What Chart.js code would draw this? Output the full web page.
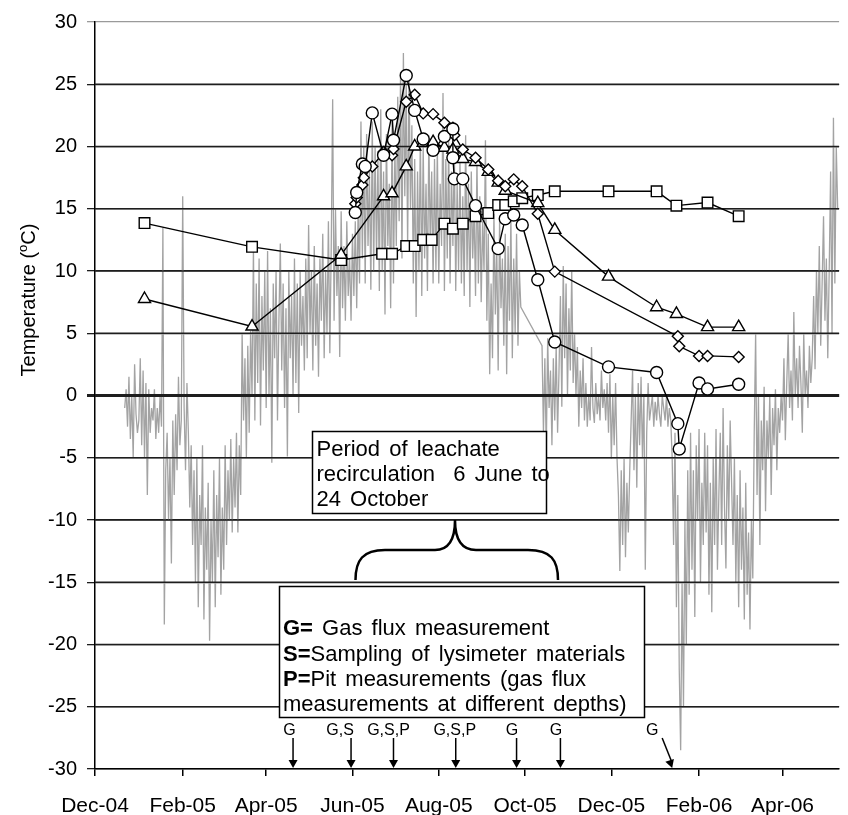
<!DOCTYPE html>
<html><head><meta charset="utf-8">
<script src="https://cdn.jsdelivr.net/npm/chart.js@4.4.1/dist/chart.umd.min.js"></script>
<style>html,body{margin:0;padding:0;background:#fff}canvas{display:block}</style>
</head><body>
<canvas id="c" width="848" height="815"></canvas>
<script>
// ---- axis ----
const axisStart = '2004-12-01';
const axisEnd = '2006-05-11';
const tickDates = ['2004-12-01','2005-02-01','2005-04-01','2005-06-01','2005-08-01','2005-10-01','2005-12-01','2006-02-01','2006-04-01'];
const tickLabels = ['Dec-04','Feb-05','Apr-05','Jun-05','Aug-05','Oct-05','Dec-05','Feb-06','Apr-06'];

// ---- daily air temperature (grey), from airStart, one value per day, null = missing ----
const airStart = '2004-12-22';
const airTemp = [
 -1,0.5,-2.5,1.5,-3.5,0,-5,2.5,-1.5,-3,
 -2,3,-4,2,-5,1,-8,0.5,-3,-1,
 -2,0.5,-3.5,-1,-3,0,-2.5,13.5,-18.4,-6,
 -3,-10,-5,-13.5,-2,-8,-1.5,-6,1.5,-4,
 -2,16,-1,-6,1,-3,-9,-4,-12,-6,
 -15,-5,-17,-8,-12,-4,-18,-9,-14,-7,
 -19.7,-10,-15,-6,-17,-8,-13,-5,-16,-9,
 -14,-4,-12,-6,-10,-3.5,-11,-5,-9,-3,
 -11,-4,-8,5,-2,3,-5,4,-3,5.2,
 0,11.9,-2,9,1,11,-2.4,8,2,10,
 -1,11.6,0,7,-5.4,9,3,10,-2,6,
 12.2,2,9,-1,7,-4.9,10,3,8,0,
 11,1,9,-1.4,10,4,8,2,11,3,
 13.7,5,10,2,12,4,9,1.5,11,6,
 13,3,10,5,14,3.4,12,23.8,6,15,
 8,12,3.1,14.8,7,12,6,14,8,11,
 6,13,8,14,7,15,9,22,11,20,
 9,21,12,18,8.5,22,10,20,11,19,
 8.4,23,10,18,6.5,21,12,17,7,22,
 9,20,12,24,14,26,11,27.5,16,25,
 12,26,15,21.7,9,19,6.3,18,10,21,
 8,20,11,17,8.4,20.9,12,18,9,19,
 10,20,9,17,12,24.3,8.4,19,11,20.4,
 9,18,12,20,8.4,17,10,19,9,16,
 8,20.9,10,17,7.1,18,11,15,8,19,
 9,16,7.5,14,10,20.5,6,13,1.7,9,
 3,14.6,6.5,12,2,14,7,11,4,13,
 1.7,12,6,14.3,3,11,5,13,4,10,
 7.1,null,null,null,null,null,null,null,null,null,null,null,null,null,null,
 4.0,-3,3,-4.5,4.6,-1,2,-4,3,-2,4,-3,
 2,8,-0.9,10.4,3,9,0,7,2,10,1,5,
 0,3.9,-2.5,2,-1,3,-2,1,-2.5,
 0,-2,3.9,-1,-2.2,1,-1.5,0,-2,2,-1,0.5,-2,1,
 -3,1.7,-5.1,0,-4,1,-5,
 -8,-14.1,-6,-12,-5.1,-13,-7,-11,-6,
 -2,2,-6,0,-7.4,1,-4,1.5,-5,0,-14,-3,1,-2,
 -1,0,-2.5,-0.5,-2,0,-1.5,-2.5,0,-1,-2,0,-2.5,-1,-2,
 -5,-12,-3,-17,-8,-22,-28.5,-15,-25,-10,-20,-6,-16,
 -3,-14,-6,-17.8,-4,-10,-2.7,-15,-7,-12,-3,
 -11,-4,-16,-7,-17.4,-5,-12,-2.7,-14,-8,
 -3,-12,-1,-9,-13.9,-4,-10,-2,-7,
 -12,-5,-15,-8,-17,-6,-14,-9,-18,-7,-16,-11,-18.8,-10,
 -14.7,-3,5,-8,0,-12,-2,
 -6,0.7,-9.3,-2,-5,0,-8,-1,-4,0.5,-6,-1,-3,0,
 -2,3,-3.6,1,5,-1,2,-2,6.7,0,3,-1,4,1,-3,5,0,2,-1,4,1,
 3,8,2.1,10,5,12,4,9,14.4,6,11,3,
 10,18,5,22.3,9,20,15
];

// ---- measured series (markers) ----
const squareDates = ['2005-01-05','2005-03-22','2005-05-24','2005-06-22','2005-06-29','2005-07-09','2005-07-15','2005-07-21','2005-07-27','2005-08-05','2005-08-11','2005-08-18','2005-08-27','2005-09-05','2005-09-12','2005-09-17','2005-09-23','2005-09-29','2005-10-10','2005-10-22','2005-11-29','2006-01-02','2006-01-16','2006-02-07','2006-03-01'];
const squareTemp = [13.85,11.94,10.88,11.38,11.38,12.0,12.0,12.5,12.5,13.8,13.4,13.8,14.4,14.65,15.3,15.3,15.6,15.85,16.1,16.4,16.4,16.4,15.25,15.5,14.4];

const triangleDates = ['2005-01-05','2005-03-22','2005-05-24','2005-06-23','2005-06-29','2005-07-09','2005-07-15','2005-07-21','2005-07-28','2005-08-05','2005-08-11','2005-08-18','2005-08-27','2005-09-05','2005-09-12','2005-09-17','2005-10-10','2005-10-22','2005-11-29','2006-01-02','2006-01-16','2006-02-07','2006-03-01'];
const triangleTemp = [7.75,5.54,11.3,16.0,16.24,18.4,20.0,20.3,20.35,19.9,19.75,19.0,18.76,17.96,17.1,16.45,15.45,13.3,9.55,7.09,6.55,5.49,5.49];

const diamondDates = ['2005-06-03','2005-06-04','2005-06-08','2005-06-09','2005-06-15','2005-06-23','2005-06-29','2005-06-30','2005-07-09','2005-07-15','2005-07-21','2005-07-28','2005-08-05','2005-08-11','2005-08-12','2005-08-18','2005-08-27','2005-09-05','2005-09-12','2005-09-17','2005-09-23','2005-09-29','2005-10-10','2005-10-22','2006-01-17','2006-01-18','2006-02-01','2006-02-07','2006-03-01'];
const diamondTemp = [15.4,15.9,16.9,17.5,18.4,19.56,19.3,19.8,23.6,24.15,22.66,22.6,21.9,21.5,20.9,19.75,19.1,18.15,17.25,16.8,17.36,16.8,14.6,9.95,4.75,3.95,3.18,3.18,3.1];

const circleDates = ['2005-06-03','2005-06-04','2005-06-08','2005-06-10','2005-06-15','2005-06-23','2005-06-29','2005-06-30','2005-07-09','2005-07-15','2005-07-21','2005-07-28','2005-08-05','2005-08-11','2005-08-11','2005-08-12','2005-08-18','2005-08-27','2005-09-12','2005-09-17','2005-09-23','2005-09-29','2005-10-10','2005-10-22','2005-11-29','2006-01-02','2006-01-17','2006-01-18','2006-02-01','2006-02-07','2006-03-01'];
const circleTemp = [14.7,16.3,18.6,18.4,22.7,19.3,22.6,20.5,25.7,22.9,20.6,19.7,20.8,21.4,19.1,17.4,17.4,15.25,11.8,14.2,14.5,13.7,9.3,4.3,2.3,1.85,-2.26,-4.3,1.0,0.53,0.9];

// ---- events marked by arrows ----
const eventDates = ['2005-04-20','2005-05-31','2005-06-30','2005-08-13','2005-09-25','2005-10-26','2006-01-13'];
const eventLabels = ['G','G,S','G,S,P','G,S,P','G','G','G'];

// ---- helpers ----
function dayOf(s){ const p=s.split('-').map(Number); const b=axisStart.split('-').map(Number);
  return (Date.UTC(p[0],p[1]-1,p[2]) - Date.UTC(b[0],b[1]-1,b[2]))/86400000; }
const tickDays = tickDates.map(dayOf);
function pts(dates, vals){ return dates.map((d,i)=>({x:dayOf(d), y:vals[i]})); }
const airPts = airTemp.map((v,i)=>({x: dayOf(airStart)+i, y: v}));

const FONT = "'Liberation Sans', Arial, Helvetica, sans-serif";
Chart.defaults.font.family = FONT;
Chart.defaults.color = '#000';

const marker = {borderColor:'#000', borderWidth:1.4, backgroundColor:'#fff',
  pointBackgroundColor:'#fff', pointBorderColor:'#000', pointBorderWidth:1.4, tension:0, fill:false};

const annot = {
  id:'annot',
  afterDatasetDraw(chart, args){
    if(args.index !== 4) return;
    const {ctx, chartArea:a, scales:{y}} = chart;
    ctx.save();
    for(let v=-25; v<=25; v+=5){
      const lw = v===0 ? 3 : 1.3;
      const py = y.getPixelForValue(v);
      ctx.beginPath(); ctx.moveTo(a.left, py); ctx.lineTo(a.right, py);
      ctx.lineWidth = lw; ctx.strokeStyle = '#1e1e1e'; ctx.stroke();
    }
    ctx.restore();
  },
  afterDraw(chart){
    const {ctx, scales:{x}} = chart;
    ctx.save();
    // y title with superscript o
    ctx.translate(29, 300); ctx.rotate(-Math.PI/2);
    ctx.fillStyle = '#000'; ctx.textBaseline = 'middle'; ctx.textAlign = 'left';
    const f1 = '20px ' + FONT, f2 = '13px ' + FONT;
    ctx.font = f1; const w1 = ctx.measureText('Temperature (').width, w3 = ctx.measureText('C)').width;
    ctx.font = f2; const w2 = ctx.measureText('o').width;
    let sx = -(w1+w2+w3)/2;
    ctx.font = f1; ctx.fillText('Temperature (', sx, 0);
    ctx.font = f2; ctx.fillText('o', sx+w1, -6);
    ctx.font = f1; ctx.fillText('C)', sx+w1+w2, 0);
    ctx.restore();

    ctx.save();
    ctx.lineWidth = 1.5; ctx.strokeStyle = '#000'; ctx.fillStyle = '#fff';
    try { ctx.wordSpacing = '3px'; } catch(e) {}
    // box 1
    ctx.fillRect(312.5, 431.5, 234, 82); ctx.strokeRect(312.5, 431.5, 234, 82);
    ctx.fillStyle = '#000'; ctx.font = '22px ' + FONT; ctx.textBaseline = 'alphabetic'; ctx.textAlign='left';
    ctx.fillText('Period of leachate', 316.5, 456);
    ctx.fillText('recirculation  6 June to', 316.5, 481);
    ctx.fillText('24 October', 316.5, 506);
    // brace
    ctx.beginPath(); ctx.lineWidth = 2.5;
    ctx.moveTo(355.5, 580);
    ctx.bezierCurveTo(355.5, 560, 363, 550, 385, 550);
    ctx.lineTo(435, 550);
    ctx.bezierCurveTo(448, 550, 455, 540, 455, 520);
    ctx.bezierCurveTo(455, 540, 462, 550, 476, 550);
    ctx.lineTo(528, 550);
    ctx.bezierCurveTo(551, 550, 558, 560, 558, 580);
    ctx.stroke();
    // box 2
    ctx.lineWidth = 1.5; ctx.fillStyle = '#fff';
    ctx.fillRect(279.5, 586.5, 365, 131); ctx.strokeRect(279.5, 586.5, 365, 131);
    ctx.fillStyle = '#000';
    const rows = [['G= ','Gas flux measurement',634.5],['S=','Sampling of lysimeter materials',661],['P=','Pit measurements (gas flux',686],['','measurements at different depths)',711]];
    rows.forEach(r=>{
      ctx.font = 'bold 22px ' + FONT; const bw = ctx.measureText(r[0]).width; ctx.fillText(r[0], 283, r[2]);
      ctx.font = '22px ' + FONT; ctx.fillText(r[1], 283 + bw, r[2]);
    });
    try { ctx.wordSpacing = '0px'; } catch(e) {}
    // event arrows
    const shifts = [-3.5,-11,-5,-1,-4.5,-4.5,-20];
    ctx.font = '16px ' + FONT; ctx.textAlign = 'center';
    eventDates.forEach((d,i)=>{
      const px = x.getPixelForValue(dayOf(d));
      const tipY = 768, topY = 738;
      const tailX = i===6 ? px-10 : px;
      ctx.fillStyle = '#000';
      ctx.fillText(eventLabels[i], px + shifts[i], 735);
      ctx.beginPath(); ctx.lineWidth = 1.5; ctx.moveTo(tailX, topY); ctx.lineTo(px, tipY-5); ctx.stroke();
      const ang = Math.atan2(tipY-topY, px-tailX);
      const hl = 8, hw = 4.5;
      const bx = px - Math.cos(ang)*hl, by = tipY - Math.sin(ang)*hl;
      ctx.beginPath(); ctx.moveTo(px, tipY);
      ctx.lineTo(bx + Math.sin(ang)*hw, by - Math.cos(ang)*hw);
      ctx.lineTo(bx - Math.sin(ang)*hw, by + Math.cos(ang)*hw);
      ctx.closePath(); ctx.fill();
    });
    ctx.restore();
  }
};

new Chart(document.getElementById('c').getContext('2d'), {
  type:'line',
  data:{datasets:[
    {...marker, data: pts(circleDates, circleTemp), pointStyle:'circle', pointRadius:6, order:1},
    {...marker, data: pts(diamondDates, diamondTemp), pointStyle:'rectRot', pointRadius:5.5, order:2},
    {...marker, data: pts(triangleDates, triangleTemp), pointStyle:'triangle', pointRadius:7, order:3},
    {...marker, data: pts(squareDates, squareTemp), pointStyle:'rect', pointRadius:7.5, order:4},
    {data: airPts, borderColor:'#a3a3a3', borderWidth:1.3, pointRadius:0, spanGaps:true, tension:0, fill:false, order:10}
  ]},
  options:{
    responsive:false, animation:false, devicePixelRatio:1,
    layout:{padding:{top:13, right:0, bottom:0, left:0}},
    plugins:{legend:{display:false}, tooltip:{enabled:false}, title:{display:false}},
    scales:{
      x:{type:'linear', min:0, max:dayOf(axisEnd),
        afterBuildTicks: s=>{ s.ticks = tickDays.map(v=>({value:v})); },
        afterFit: s=>{ s.height = 46; },
        ticks:{callback:(v)=>{ const i = tickDays.indexOf(v); return i>=0 ? tickLabels[i] : ''; },
          autoSkip:false, maxRotation:0, font:{size:21}, padding:18, color:'#000'},
        grid:{drawOnChartArea:false, drawTicks:true, tickLength:7, color:'#000', lineWidth:1.5},
        border:{display:true, color:'#000', width:1.5}
      },
      y:{min:-30, max:30,
        afterFit: s=>{ s.width = 95; },
        ticks:{stepSize:5, font:{size:20}, padding:10, color:'#000'},
        grid:{color:c=>c.tick && c.tick.value===30 ? '#9a9a9a' : '#1e1e1e',
              lineWidth:c=>c.tick && c.tick.value===0 ? 3 : 1.3, tickLength:8, drawTicks:true},
        border:{display:true, color:'#000', width:1.5}
      }
    }
  },
  plugins:[annot]
});
</script>
</body></html>
